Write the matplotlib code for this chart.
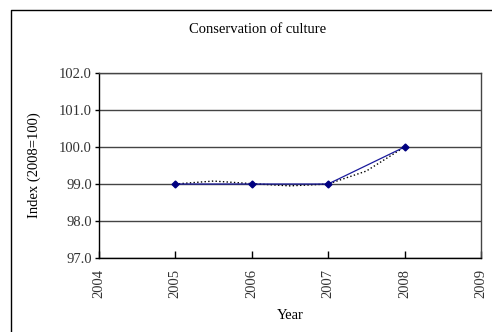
import numpy as np
import matplotlib.pyplot as plt
from matplotlib.lines import Line2D

# data
years = [2005, 2006, 2007, 2008]
index = [99.0, 99.0, 99.0, 100.0]

# dotted trend curve
trend_x = [2005, 2005.5, 2006, 2006.5, 2007, 2007.5, 2008]
trend_y = [99.0, 99.08, 99.01, 98.95, 99.0, 99.35, 100.0]

xticks = [2004, 2005, 2006, 2007, 2008, 2009]
yticks = [97.0, 98.0, 99.0, 100.0, 101.0, 102.0]

plt.rcParams['font.family'] = ['Liberation Serif', 'DejaVu Serif']

fig = plt.figure(figsize=(4.92, 3.32), dpi=100)
ax = fig.add_axes([0.2006, 0.2229, 0.7770, 0.5571])

for y in yticks:
    ax.axhline(y, color='#444444', lw=1.0, zorder=1)

ax.plot(trend_x, trend_y, ':', color='black', lw=1.0, zorder=2)
ax.plot(years, index, '-', color='#1a1a9c', lw=0.9, marker='D', ms=3.5,
        mfc='#000080', mec='#000080', zorder=3)

ax.set_xlim(2004, 2009)
ax.set_ylim(97, 102)
ax.set_xticks(xticks)
ax.set_xticklabels([str(x) for x in xticks], rotation=90, fontsize=10.5,
                   color='#333333')
ax.set_yticks(yticks)
ax.set_yticklabels([f'{y:.1f}' for y in yticks], fontsize=10.5, color='#333333')
ax.tick_params(axis='x', direction='in', length=5, width=1, pad=8)
ax.tick_params(axis='y', direction='out', length=3, width=1, pad=2)

for s in ax.spines.values():
    s.set_linewidth(1.0)
ax.spines['top'].set_color('#444444')
ax.spines['right'].set_color('#444444')

ax.set_xlabel('Year', fontsize=10.5, labelpad=8)
ax.set_ylabel('Index (2008=100)', fontsize=10.5, labelpad=13)
fig.text(0.523, 0.91, 'Conservation of culture', ha='center', va='center',
         fontsize=10.5)

# outer chart frame: only the left and top edges fall inside the picture
fx = 10.5 / 492
fy = 1 - 9.5 / 332
fig.lines.append(Line2D([fx, fx, 1.0], [0.0, fy, fy], transform=fig.transFigure,
                        color='black', lw=1.0))

fig.savefig('out.png', dpi=100)
